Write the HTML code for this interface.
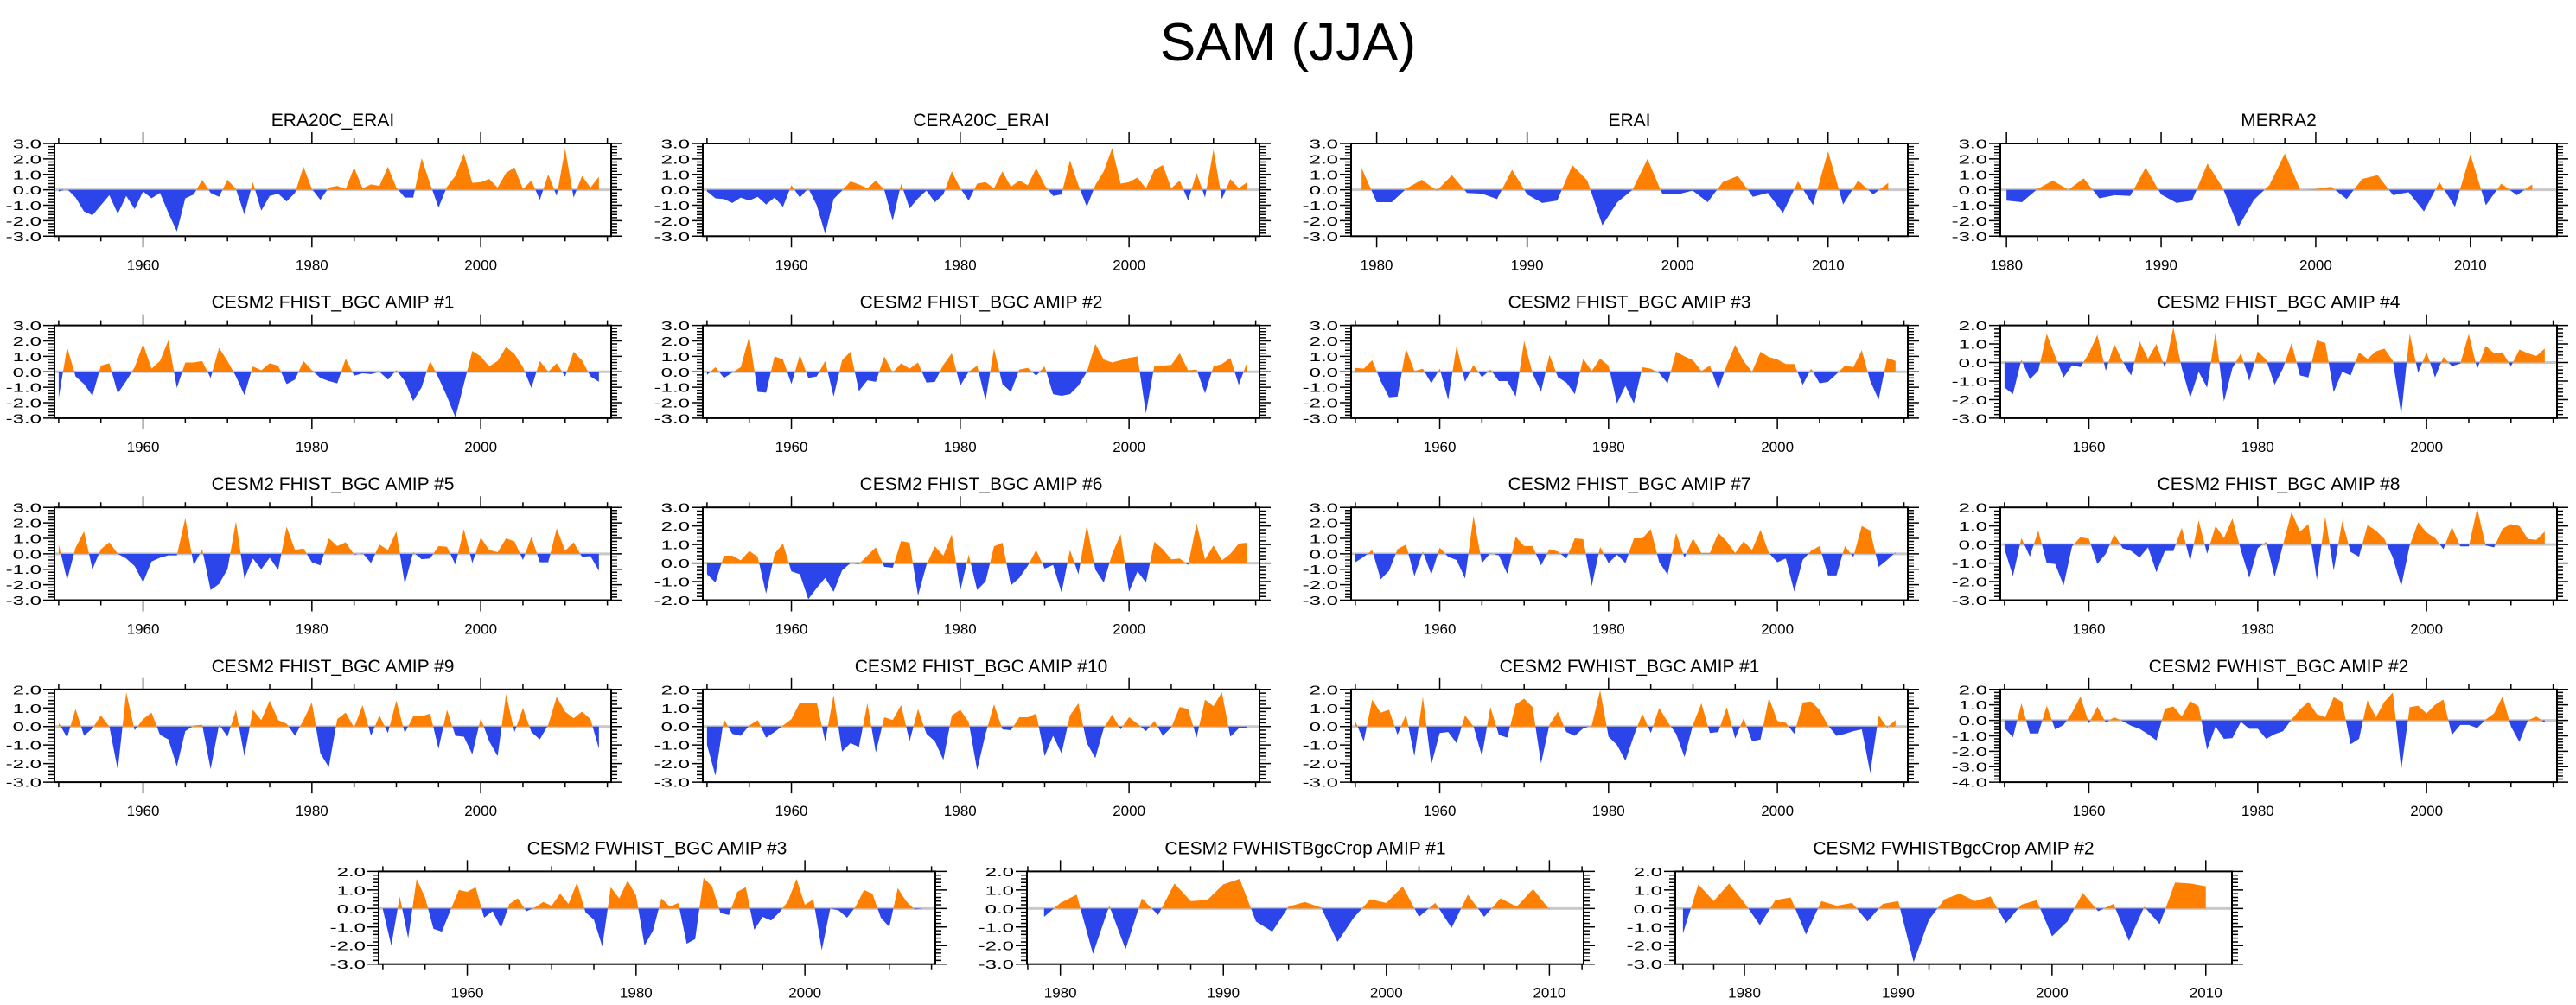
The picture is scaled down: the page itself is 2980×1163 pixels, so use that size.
<!DOCTYPE html>
<html><head><meta charset="utf-8"><title>SAM (JJA)</title>
<style>html,body{margin:0;padding:0;background:#fff;}svg{display:block;font-family:"Liberation Sans",Arial,sans-serif;}</style>
</head><body>
<svg id="chart" xmlns="http://www.w3.org/2000/svg" width="2980" height="1163" viewBox="0 0 2980 1163">
<rect x="0" y="0" width="2980" height="1163" fill="#fff"/>
<text x="1490" y="70" text-anchor="middle" font-size="62" fill="#000">SAM (JJA)</text>
</svg>
<script>
// ---- data (SAM index per year) ----
const era20cErai=[-0.1,0.05,-0.5,-1.4,-1.65,-1.0,-0.35,-1.55,-0.4,-1.25,-0.1,-0.55,-0.2,-1.5,-2.7,-0.55,-0.3,0.65,-0.2,-0.45,0.65,0.05,-1.6,0.5,-1.35,-0.4,-0.25,-0.75,-0.2,1.5,0.05,-0.65,0.15,0.25,0.05,1.45,0.1,0.35,0.25,1.5,0.15,-0.5,-0.5,2.05,0.4,-1.15,0.2,0.9,2.35,0.45,0.5,0.7,0.15,1.1,1.45,0.05,0.6,-0.65,1.0,-0.4,2.65,-0.5,0.9,0.15,0.85];
const cera20cErai=[-0.1,-0.55,-0.6,-0.85,-0.5,-0.7,-0.45,-0.95,-0.5,-1.1,0.3,-0.5,0.1,-1.0,-2.85,-0.6,-0.05,0.55,0.35,0.1,0.6,0.0,-2.0,0.4,-1.2,-0.55,-0.05,-0.8,-0.3,1.2,0.1,-0.7,0.4,0.5,0.1,1.2,0.2,0.6,0.3,1.4,0.3,-0.4,-0.3,1.9,0.3,-1.1,0.3,1.2,2.7,0.4,0.5,0.8,0.1,1.3,1.6,0.1,0.6,-0.7,1.1,-0.5,2.6,-0.6,0.7,0.1,0.5];
const erai=[1.4,-0.8,-0.8,0.1,0.65,-0.05,0.95,-0.2,-0.25,-0.6,1.3,-0.3,-0.85,-0.7,1.6,0.6,-2.3,-0.8,0.0,2.0,-0.3,-0.3,-0.05,-0.8,0.5,0.9,-0.45,-0.2,-1.5,0.55,-1.0,2.5,-0.95,0.6,-0.3,0.45];
const merra2=[-0.7,-0.8,0.05,0.6,0.0,0.75,-0.55,-0.35,-0.4,1.45,-0.3,-0.85,-0.7,1.7,0.1,-2.4,-0.65,0.3,2.35,0.0,0.05,0.2,-0.6,0.7,0.95,-0.35,-0.15,-1.4,0.5,-1.1,2.3,-1.0,0.4,-0.35,0.35];
const fhist1=[-1.7,1.6,-0.3,-0.8,-1.55,0.4,0.55,-1.4,-0.6,0.3,1.8,0.2,0.7,2.05,-1.05,0.6,0.6,0.7,-0.4,1.55,0.7,-0.3,-1.5,0.35,0.1,0.55,0.4,-0.8,-0.5,0.7,0.1,-0.4,-0.6,-0.75,0.85,-0.25,-0.1,-0.15,0.0,-0.5,0.1,-0.6,-1.9,-1.0,0.7,-0.4,-1.6,-2.95,-0.8,1.35,1.0,0.35,0.7,1.6,1.15,0.3,-1.05,0.7,0.0,0.55,-0.3,1.3,0.75,-0.3,-0.65];
const fhist2=[-0.2,0.3,-0.4,-0.05,0.3,2.3,-1.3,-1.35,1.0,0.8,-0.8,1.1,-0.4,-0.3,0.7,-1.6,0.75,1.3,-1.25,-0.55,-0.65,1.0,-0.05,0.55,0.2,0.6,-0.7,-0.65,0.45,1.2,-0.9,0.0,0.4,-1.85,1.5,-0.8,-1.3,0.15,0.25,-0.25,0.35,-1.45,-1.55,-1.45,-0.9,0.0,1.8,0.8,0.6,0.75,0.9,1.0,-2.7,0.4,0.4,0.45,1.2,0.1,0.15,-1.4,0.35,0.5,0.9,-0.85,0.65];
const fhist3=[0.25,0.2,0.75,-0.6,-1.65,-1.6,1.5,0.05,0.2,-0.75,0.2,-1.8,1.7,-0.65,0.45,-0.35,0.15,-0.6,-0.6,-1.6,2.0,-0.1,-1.3,1.1,-0.35,-0.7,-1.45,0.85,0.05,0.85,0.4,-2.05,-0.9,-2.05,0.3,0.2,-0.1,-0.75,1.3,1.0,0.75,0.05,0.4,-1.15,0.45,1.75,0.7,0.0,1.3,0.95,0.8,0.5,0.5,-0.85,0.2,-0.75,-0.65,-0.15,0.4,0.3,1.4,-0.6,-1.8,0.9,0.7];
const fhist4=[-1.35,-1.7,0.15,-0.9,-0.45,1.55,0.35,-0.8,-0.15,-0.25,0.5,1.5,-0.45,1.0,0.05,-0.7,1.15,0.2,1.0,-0.3,1.9,-0.3,-1.9,-0.5,-1.35,1.65,-2.1,-0.3,0.5,-1.0,0.6,0.15,-1.2,-0.3,1.05,-0.7,-0.8,1.2,1.05,-1.6,-0.5,-0.7,0.55,0.2,0.6,0.75,0.1,-2.8,1.55,-0.55,0.55,-0.8,0.3,-0.2,-0.05,1.55,-0.35,0.9,0.5,0.55,-0.2,0.7,0.5,0.35,0.75];
const fhist5=[0.6,-1.7,0.4,1.45,-1.0,0.3,0.75,0.0,-0.3,-0.8,-1.85,-0.5,-0.25,-0.1,-0.1,2.3,-0.75,0.3,-2.35,-1.95,-1.0,2.1,-1.6,-0.3,-1.0,-0.25,-1.05,1.75,0.25,0.35,-0.55,-0.75,1.0,0.5,0.75,-0.05,0.05,-0.6,0.6,0.25,1.45,-1.95,0.1,-0.35,-0.3,0.5,0.45,-0.7,1.6,-0.6,1.05,0.25,0.1,1.0,0.8,-0.4,1.1,-0.55,-0.55,1.65,0.2,0.75,-0.2,-0.15,-1.1];
const fhist6=[-0.6,-1.05,0.4,0.4,0.15,0.65,0.35,-1.65,0.5,1.05,-0.45,-0.6,-1.95,-1.35,-0.8,-1.55,-0.4,0.0,-0.05,0.4,0.85,-0.2,-0.25,1.2,1.1,-1.75,-0.1,0.9,0.4,1.55,-1.5,0.45,-1.45,-1.0,0.9,1.1,-1.2,-0.8,-0.15,0.7,-0.3,-0.1,-1.6,0.7,-0.6,2.05,-0.35,-1.05,0.5,1.55,-1.55,-0.45,-1.05,1.15,0.75,0.2,0.25,-0.1,2.15,0.2,0.95,0.15,0.5,1.05,1.1];
const fhist7=[-0.55,-0.2,0.25,-1.65,-1.1,0.3,0.6,-1.45,0.15,-1.35,0.4,-0.2,-0.4,-1.6,2.45,-0.6,0.05,-0.1,-1.3,1.1,0.5,0.5,-0.75,0.3,0.15,-0.3,1.0,0.95,-2.1,0.45,-0.6,-0.05,-0.6,1.0,1.0,1.6,-0.55,-1.35,1.35,-0.25,1.0,0.05,0.05,1.35,0.8,0.05,0.8,0.25,1.55,0.05,-0.55,-0.3,-2.45,-0.4,0.2,0.5,-1.4,-1.4,0.5,-0.2,1.8,1.5,-0.85,-0.4,0.1];
const fhist8=[-0.25,-1.7,0.35,-0.65,0.75,-1.0,-1.05,-2.2,-0.1,0.4,0.3,-1.05,-0.5,0.55,-0.2,-0.35,-0.7,-0.15,-1.5,-0.35,-0.35,0.9,-0.9,1.3,-0.5,1.0,0.35,1.4,-0.3,-1.8,-0.2,0.15,-1.75,0.0,1.75,0.7,1.1,-1.9,1.5,-1.4,1.25,-0.4,-0.65,1.05,0.75,0.3,-0.7,-2.25,-0.05,1.2,0.65,0.35,-0.25,0.95,-0.1,-0.1,1.95,-0.05,-0.15,0.85,1.1,1.0,0.3,0.25,0.7];
const fhist9=[0.2,-0.6,0.95,-0.5,-0.1,0.6,0.0,-2.35,1.85,-0.2,0.4,0.75,-0.45,-0.7,-2.15,-0.25,0.05,0.1,-2.3,0.1,-0.55,0.9,-1.6,0.9,0.35,1.4,0.35,0.15,-0.5,0.35,1.3,-1.45,-2.2,0.4,0.75,-0.05,1.15,-0.5,0.6,-0.35,1.4,-0.35,0.55,0.55,0.7,-1.2,0.9,-0.5,-0.55,-1.5,0.45,-0.8,-1.6,1.75,-0.3,1.0,-0.3,-0.7,0.1,1.6,0.8,0.45,0.8,0.4,-1.2];
const fhist10=[-1.0,-2.65,0.4,-0.4,-0.5,0.05,0.35,-0.6,-0.3,0.05,0.4,1.3,1.25,1.3,-0.8,1.7,-1.35,-0.9,-1.1,1.25,-1.4,0.5,0.35,1.15,-0.8,0.95,-0.4,-0.8,-1.8,0.6,0.9,0.25,-2.35,-0.4,1.2,-0.15,-0.2,0.5,0.5,0.7,-1.6,-0.5,-1.45,0.6,1.25,-0.9,-1.7,-0.1,0.65,-0.15,0.5,0.15,-0.25,0.3,-0.5,-0.05,1.05,0.95,-0.6,1.45,1.1,1.85,-0.55,-0.1,-0.05];
const fwhist1=[0.3,-0.8,1.45,0.75,0.9,-0.45,0.65,-1.6,1.6,-2.05,-0.35,-0.3,-0.9,0.6,0.0,-1.6,1.05,-0.45,-0.6,1.2,1.5,1.05,-2.0,0.1,0.8,-0.3,-0.5,-0.1,0.05,1.95,-0.55,-1.0,-1.85,-0.5,0.7,-0.35,1.0,0.25,-0.4,-1.65,0.1,1.25,-0.35,-0.3,1.05,-0.65,0.45,-0.8,-0.7,1.55,0.3,0.2,-0.4,1.3,1.35,0.9,0.05,-0.5,-0.4,-0.25,-0.15,-2.5,0.6,-0.05,0.35];
const fwhist2=[-0.5,-1.1,1.1,-0.85,-0.85,0.95,-0.6,-0.3,0.5,1.55,-0.2,0.9,-0.15,0.2,-0.05,-0.35,-0.55,-0.9,-1.3,0.75,0.9,0.25,1.25,0.9,-1.9,-0.4,-1.2,-1.15,-0.1,-0.55,-0.55,-1.2,-0.9,-0.7,0.05,0.7,1.2,0.4,0.2,1.5,1.2,-1.55,-1.2,1.3,0.2,1.2,1.8,-3.2,0.85,0.95,0.45,1.0,1.35,-0.95,-0.3,-0.3,-0.5,0.05,0.45,1.55,-0.4,-1.4,0.0,0.25,-0.15];
const fwhist3=[-0.05,-2.0,0.65,-1.6,1.6,0.6,-1.1,-1.25,-0.1,1.0,0.9,1.15,-0.5,-0.15,-1.05,0.25,0.55,-0.15,0.05,0.35,0.15,0.8,0.25,1.4,-0.2,-0.6,-2.05,1.15,0.55,1.5,0.7,-2.0,-1.2,0.55,0.1,0.3,-1.9,-1.65,1.65,1.2,-0.25,-0.35,0.9,1.15,-1.15,-0.45,-0.65,-0.2,0.4,1.6,0.2,0.5,-2.25,0.0,-0.1,-0.5,0.1,1.0,0.8,-0.5,-1.0,1.1,0.4,-0.05,0.0];
const crop1=[-0.45,0.3,0.75,-2.45,0.15,-2.2,0.55,-0.35,1.35,0.4,0.45,1.3,1.6,-0.7,-1.25,0.1,0.35,0.05,-1.8,-0.5,0.5,0.3,1.2,-0.45,0.3,-1.05,0.75,-0.45,0.55,0.1,1.05,-0.05];
const crop2=[-1.35,1.3,0.4,1.35,0.3,-0.9,0.45,0.6,-1.4,0.4,0.15,0.3,-0.7,0.25,0.4,-2.9,-0.6,0.5,0.8,0.4,0.65,-0.8,0.2,0.45,-1.5,-0.7,0.85,-0.15,0.25,-1.75,0.1,-0.85,1.4,1.35,1.2];
const startYears=[1950,1950,1979,1980,1950,1950,1950,1950,1950,1950,1950,1950,1950,1950,1950,1950,1950,1950,1950,1979,1976];
const panelTitles=["ERA20C_ERAI","CERA20C_ERAI","ERAI","MERRA2","CESM2 FHIST_BGC AMIP #1","CESM2 FHIST_BGC AMIP #2","CESM2 FHIST_BGC AMIP #3","CESM2 FHIST_BGC AMIP #4","CESM2 FHIST_BGC AMIP #5","CESM2 FHIST_BGC AMIP #6","CESM2 FHIST_BGC AMIP #7","CESM2 FHIST_BGC AMIP #8","CESM2 FHIST_BGC AMIP #9","CESM2 FHIST_BGC AMIP #10","CESM2 FWHIST_BGC AMIP #1","CESM2 FWHIST_BGC AMIP #2","CESM2 FWHIST_BGC AMIP #3","CESM2 FWHISTBgcCrop AMIP #1","CESM2 FWHISTBgcCrop AMIP #2"];
const panelSeries=[era20cErai,cera20cErai,erai,merra2,fhist1,fhist2,fhist3,fhist4,fhist5,fhist6,fhist7,fhist8,fhist9,fhist10,fwhist1,fwhist2,fwhist3,crop1,crop2];
const panelStart=[1950,1950,1979,1980,1950,1950,1950,1950,1950,1950,1950,1950,1950,1950,1950,1950,1950,1979,1976];
const yMaxes=[3,3,3,3,3,3,3,2,3,3,3,2,2,2,2,2,2,2,2];
const yMins=[-3,-3,-3,-3,-3,-3,-3,-3,-3,-2,-3,-3,-3,-3,-3,-4,-3,-3,-3];

// ---- layout ----
const PW=644, PH=107.3;
const colX=[63,813,1563,2314];
const rowY=[166,376.6,587.2,797.8,1008.4];
const row5X=[438,1188,1938];
const NS='http://www.w3.org/2000/svg';
const svg=document.getElementById('chart');
function mk(tag,attrs,parent){const e=document.createElementNS(NS,tag);for(const k in attrs)e.setAttribute(k,attrs[k]);(parent||svg).appendChild(e);return e;}

function xConf(i){
  if(i===2) return {xmin:1978.3,xmax:2015.3,major:10,minor:2,first:1980};
  if(i===3) return {xmin:1979.6,xmax:2015.6,major:10,minor:2,first:1980};
  if(i===17) return {xmin:1977.95,xmax:2012.1,major:10,minor:2,first:1980};
  if(i===18) return {xmin:1975.5,xmax:2011.7,major:10,minor:2,first:1980};
  return {xmin:1949.5,xmax:2015.45,major:20,minor:5,first:1960};
}

for(let i=0;i<panelSeries.length;i++){
  const L = i<16 ? colX[i%4] : row5X[i-16];
  const T = i<16 ? rowY[Math.floor(i/4)] : rowY[4];
  const xc=xConf(i), ymax=yMaxes[i], ymin=yMins[i];
  const data=panelSeries[i], y0=panelStart[i];
  const xs=v=>L+(v-xc.xmin)/(xc.xmax-xc.xmin)*PW;
  const ys=v=>T+(ymax-v)/(ymax-ymin)*PH;
  const g=mk('g',{});
  
  
  const ttl=mk('text',{x:L+PW/2,y:T-20,'text-anchor':'middle','font-size':21,fill:'#000'},g);
  ttl.textContent=panelTitles[i];
  
  
  // zero line
  const zl=mk('line',{x1:L,x2:L+PW,y1:ys(0),y2:ys(0),stroke:'#c8c8c8','stroke-width':3},g);
  
  
  // build points with zero-crossings
  const pts=[];
  for(let k=0;k<data.length;k++){
    const yr=y0+k, v=data[k];
    if(k>0){const pv=data[k-1];if((pv>0&&v<0)||(pv<0&&v>0)){const t=pv/(pv-v);pts.push([yr-1+t,0]);}}
    pts.push([yr,v]);
  }
  const first=pts[0][0], last=pts[pts.length-1][0];
  let pos='M'+xs(first)+','+ys(0), neg=pos;
  for(const p of pts){pos+=' L'+xs(p[0])+','+ys(Math.max(p[1],0));neg+=' L'+xs(p[0])+','+ys(Math.min(p[1],0));}
  pos+=' L'+xs(last)+','+ys(0)+' Z'; neg+=' L'+xs(last)+','+ys(0)+' Z';
  const pp=mk('path',{d:pos,fill:'#ff8000',stroke:'none'},g);
  
  
  const np=mk('path',{d:neg,fill:'#2b45ea',stroke:'none'},g);
  
  
  // frame
  const fr=mk('rect',{x:L,y:T,width:PW,height:PH,fill:'none',stroke:'#000','stroke-width':2},g);
  
  
  // x ticks
  let td='';
  const s0=Math.ceil(xc.xmin/xc.minor)*xc.minor;
  for(let yv=s0;yv<=xc.xmax;yv+=xc.minor){
    const isMaj=((yv-xc.first)%xc.major===0);
    const len=isMaj?13:6, x=xs(yv);
    td+='M'+x+','+(T+PH)+' v'+len+' M'+x+','+T+' v'+(-len)+' ';
    if(isMaj){
      const lb=mk('text',{x:x,y:T+PH+39,'text-anchor':'middle','font-size':17,fill:'#000'},g);
      lb.textContent=String(yv);
      
      
    }
  }
  // y ticks
  for(let m=Math.round(ymin*5);m<=Math.round(ymax*5);m++){
    const v=m/5, y=ys(v), isMaj=(m%5===0), len=isMaj?13:7;
    td+='M'+L+','+y+' h'+(-len)+' M'+(L+PW)+','+y+' h'+len+' ';
    if(isMaj){
      const lb=mk('text',{transform:'translate('+(L-15)+','+(y+5.5)+') scale(1.6,1)','text-anchor':'end','font-size':15,fill:'#000'},g);
      lb.textContent=v.toFixed(1);
      
      
    }
  }
  const tk=mk('path',{d:td,stroke:'#000','stroke-width':1.5,fill:'none'},g);
  
  
}
</script>
</body></html>
